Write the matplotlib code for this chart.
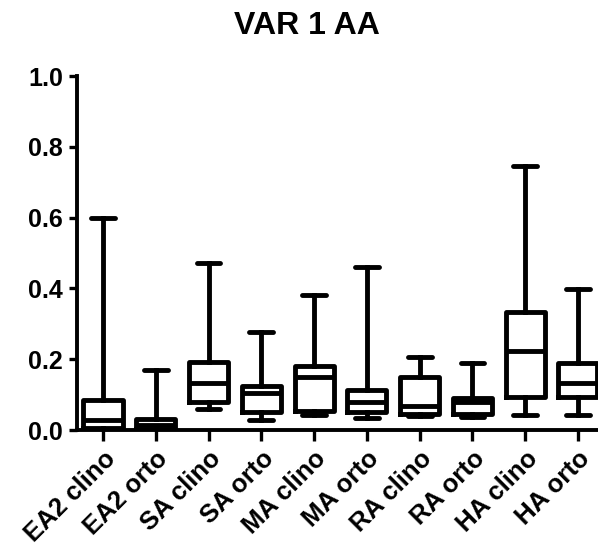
import matplotlib
matplotlib.use("Agg")
import matplotlib.pyplot as plt
from matplotlib.transforms import ScaledTranslation

categories = ["EA2 clino", "EA2 orto", "SA clino", "SA orto", "MA clino",
              "MA orto", "RA clino", "RA orto", "HA clino", "HA orto"]
whisker_low = [0.000, 0.000, 0.058, 0.028, 0.042, 0.035, 0.040, 0.037, 0.042, 0.042]
q1 = [0.005, 0.003, 0.080, 0.052, 0.054, 0.050, 0.046, 0.045, 0.093, 0.093]
median = [0.028, 0.013, 0.132, 0.105, 0.150, 0.080, 0.068, 0.078, 0.222, 0.133]
q3 = [0.085, 0.032, 0.193, 0.124, 0.180, 0.113, 0.150, 0.090, 0.333, 0.190]
whisker_high = [0.600, 0.170, 0.472, 0.278, 0.380, 0.460, 0.207, 0.190, 0.746, 0.398]
yticks = [0.0, 0.2, 0.4, 0.6, 0.8, 1.0]
title = "VAR 1 AA"

plt.rcParams['font.family'] = ['Liberation Sans', 'DejaVu Sans']

fig = plt.figure(figsize=(5.98, 5.49), dpi=100)
ax = fig.add_axes([77/598, 119/549, 1 - 77/598, 354/549])

stats = []
for i, c in enumerate(categories):
    stats.append(dict(label=c, whislo=whisker_low[i], q1=q1[i], med=median[i],
                      q3=q3[i], whishi=whisker_high[i], fliers=[]))

lw = 3.5
positions = list(range(1, len(categories) + 1))
ax.bxp(stats, positions=positions, widths=0.74, showfliers=False,
       boxprops=dict(color='black', linewidth=lw),
       medianprops=dict(color='black', linewidth=lw),
       whiskerprops=dict(color='black', linewidth=lw),
       capprops=dict(color='black', linewidth=lw, solid_capstyle='round'),
       capwidths=0.45, manage_ticks=False)

ax.set_xlim(0.507, 10.38)
ax.set_ylim(0, 1.0)
ax.set_yticks(yticks)
ax.set_yticklabels([f"{t:.1f}" for t in yticks], fontsize=18, fontweight='bold')
ax.set_xticks(positions)
ax.set_xticklabels(categories, fontsize=18.5, fontweight='bold', rotation=45,
                   ha='right', rotation_mode='anchor')
offset = ScaledTranslation(6/100, -4/100, fig.dpi_scale_trans)
for lab in ax.get_xticklabels():
    lab.set_transform(lab.get_transform() + offset)

for s in ['top', 'right']:
    ax.spines[s].set_visible(False)
for s in ['left', 'bottom']:
    ax.spines[s].set_linewidth(2.8)
ax.tick_params(axis='y', length=6, width=2.4, pad=4)
ax.tick_params(axis='x', length=8, width=2.4, pad=4)

fig.text(307/598, 1 - 26/549, title, ha='center', va='center',
         fontsize=23, fontweight='bold')

fig.savefig("out.png", dpi=100)
